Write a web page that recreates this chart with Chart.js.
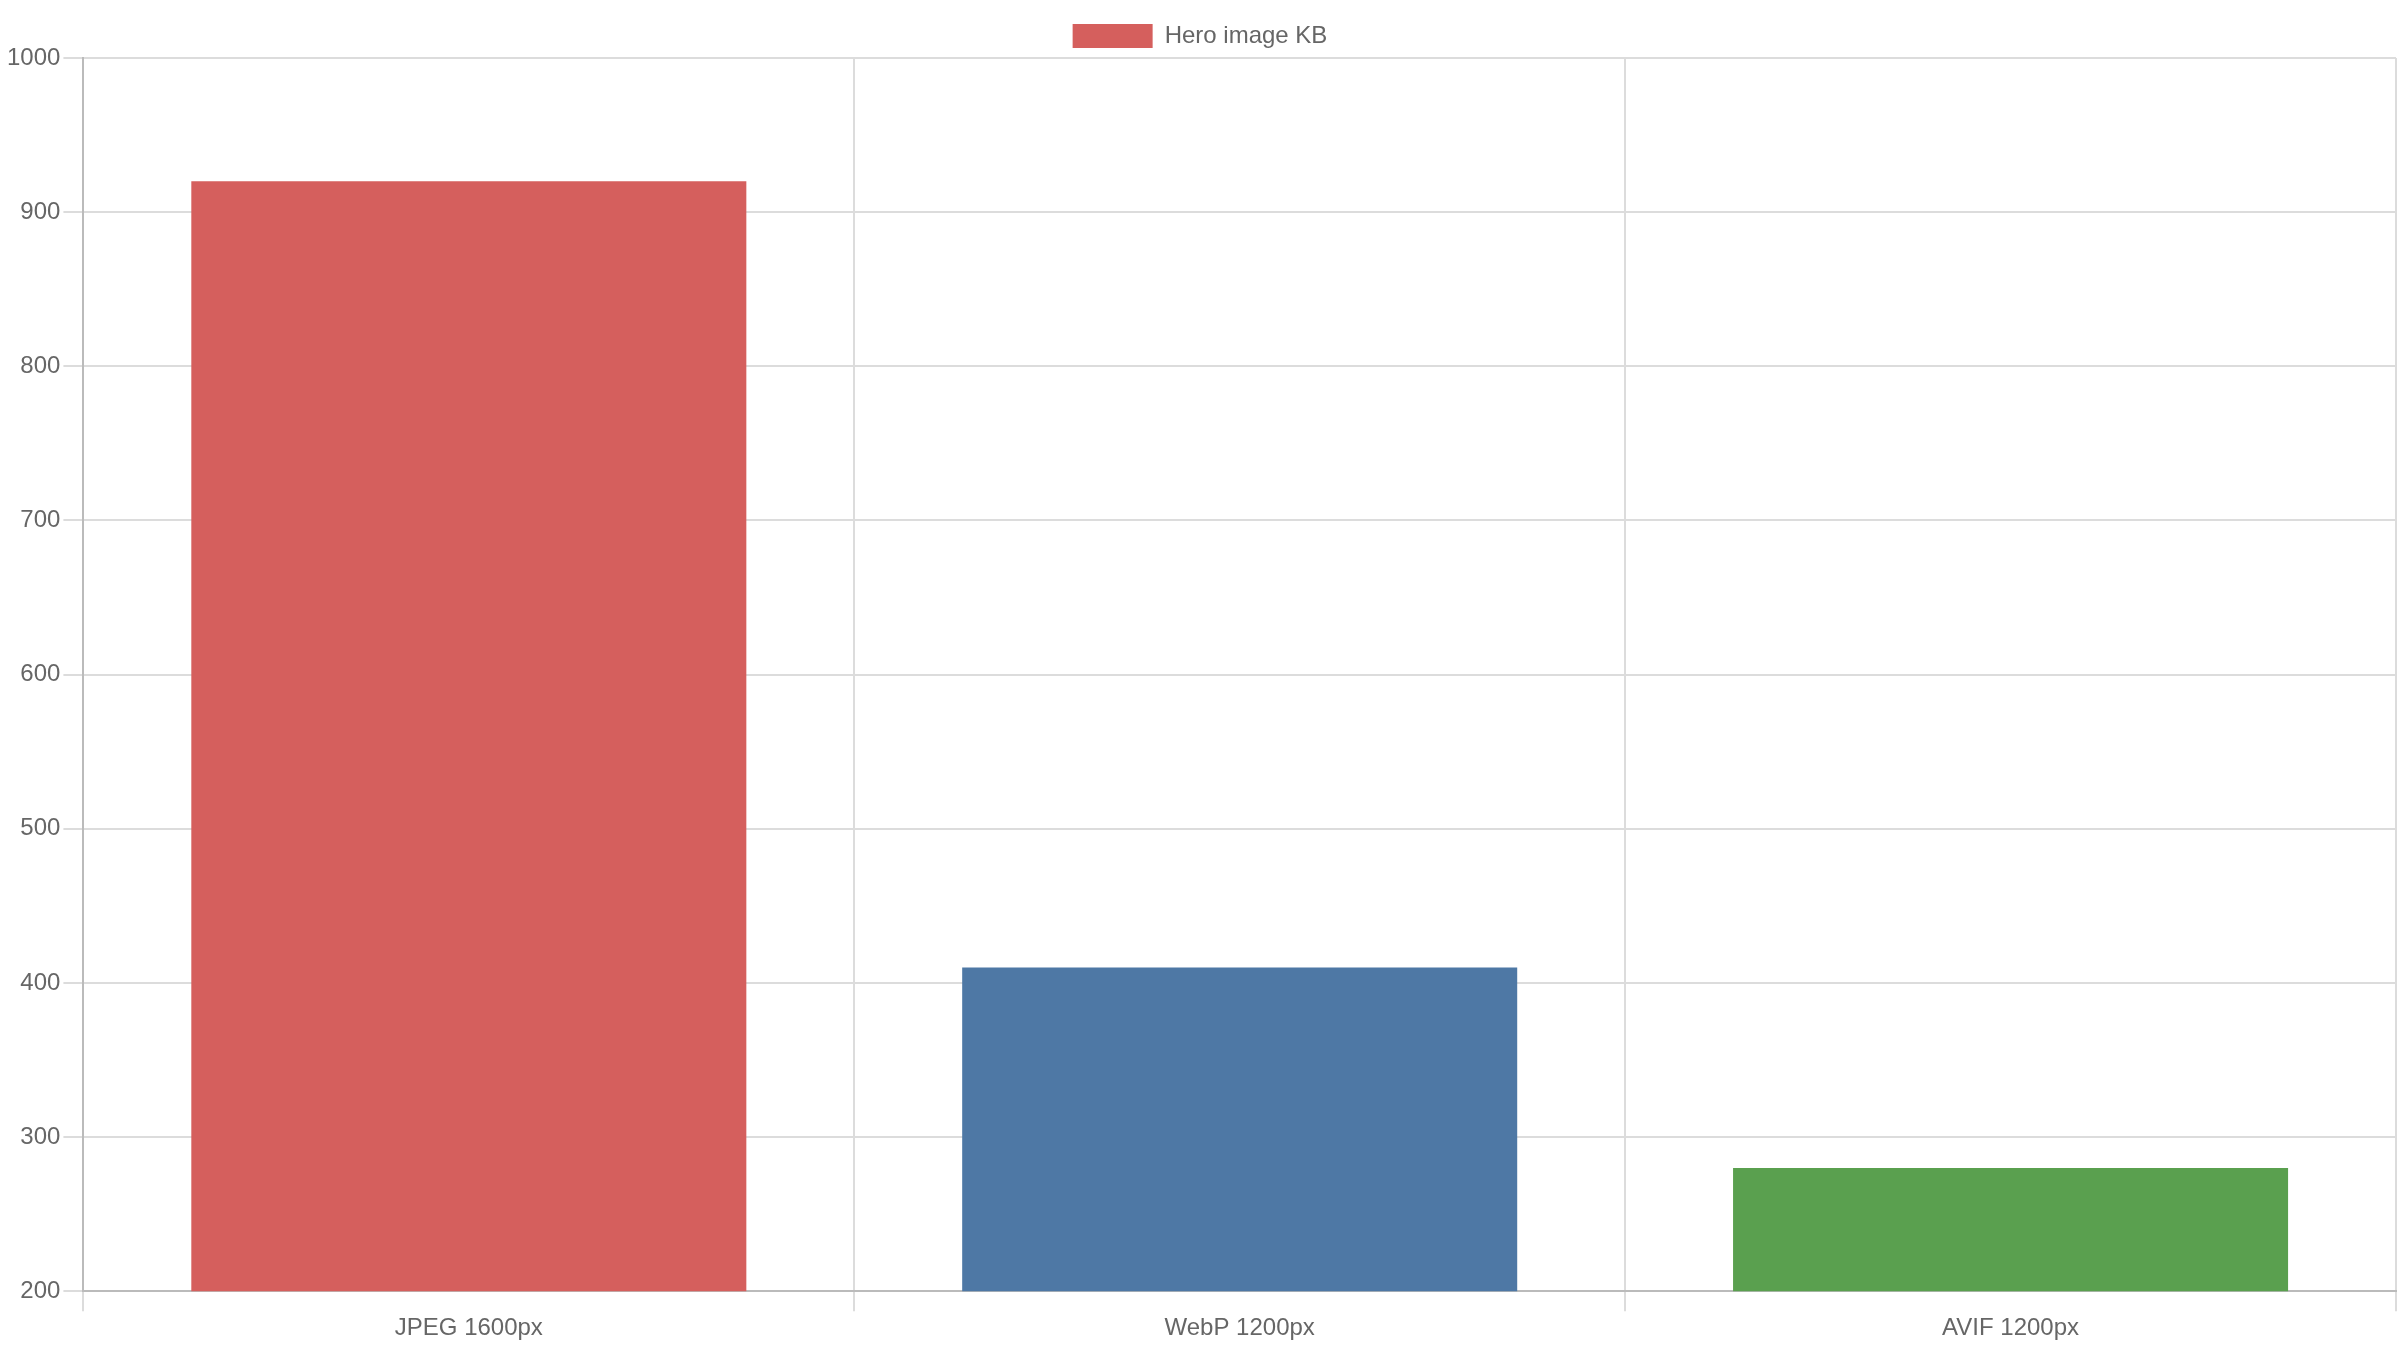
<!DOCTYPE html>
<html><head><meta charset="utf-8">
<script src="https://cdn.jsdelivr.net/npm/chart.js@4/dist/chart.umd.min.js"></script>
<style>html,body{margin:0;padding:0;background:#fff}#wrap{width:2400px;height:1350px}</style>
</head><body>
<div id="wrap"><canvas id="c"></canvas></div>
<script>
const categories = ["JPEG 1600px", "WebP 1200px", "AVIF 1200px"];
const heroKB = [920, 410, 280];
const barColors = ["#d55f5d", "#4e78a5", "#5aa04f"];
const yTicksMin = 200, yTicksMax = 1000;
Chart.defaults.font.family = "'Liberation Sans', Arial, sans-serif";
Chart.defaults.font.size = 24;
Chart.defaults.color = "#666";
const grid = { color: "#dcdcdc", lineWidth: 2, tickLength: 20 };
new Chart(document.getElementById("c"), {
  type: "bar",
  data: { labels: categories, datasets: [{ label: "Hero image KB", data: heroKB, backgroundColor: barColors, borderWidth: 0 }] },
  options: {
    devicePixelRatio: 1, responsive: true, maintainAspectRatio: false, animation: false,
    layout: { padding: 4 },
    plugins: { legend: { labels: { boxWidth: 80, boxHeight: 24, padding: 20 } } },
    scales: {
      x: { grid: grid, border: { color: "#bbb", width: 2 } },
      y: { min: yTicksMin, max: yTicksMax, grid: grid, border: { color: "#bbb", width: 2 },
           ticks: { stepSize: 100, callback: v => String(v) } }
    }
  }
});
</script>
</body></html>
